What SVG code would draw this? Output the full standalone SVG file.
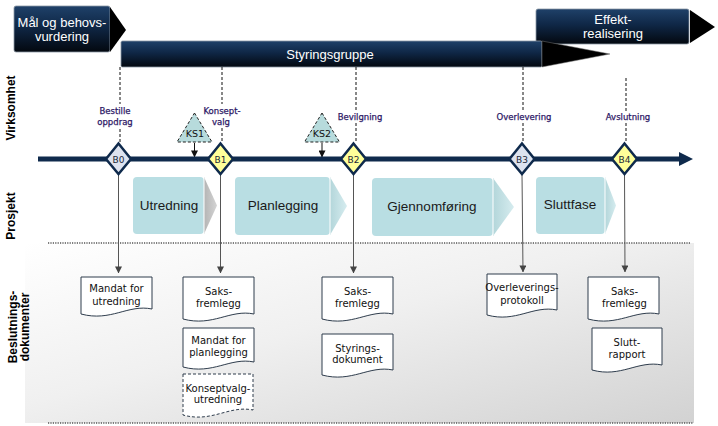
<svg xmlns="http://www.w3.org/2000/svg" width="718" height="426" viewBox="0 0 718 426">
<defs>
<linearGradient id="barGrad" x1="0" y1="0" x2="0" y2="1">
<stop offset="0" stop-color="#1f4169"/><stop offset="0.45" stop-color="#0f2746"/><stop offset="1" stop-color="#03080f"/>
</linearGradient>
<linearGradient id="panelGrad" x1="0" y1="0" x2="1" y2="1">
<stop offset="0" stop-color="#ffffff"/><stop offset="0.45" stop-color="#f0f0f0"/><stop offset="1" stop-color="#d2d2d2"/>
</linearGradient>
<linearGradient id="tipTeal" x1="0" y1="0" x2="1" y2="0">
<stop offset="0" stop-color="#b3d6da"/><stop offset="1" stop-color="#d6ecef"/>
</linearGradient>
<linearGradient id="tipGrey" x1="0" y1="0" x2="1" y2="0">
<stop offset="0" stop-color="#b4b4b4"/><stop offset="1" stop-color="#d4d4d4"/>
</linearGradient>
<marker id="arrG" viewBox="0 0 8 8" refX="7.5" refY="4" markerWidth="7" markerHeight="7" markerUnits="userSpaceOnUse" orient="auto">
<path d="M0,0 L8,4 L0,8 Z" fill="#444"/>
</marker>
<marker id="arrK" viewBox="0 0 8 8" refX="7.5" refY="4" markerWidth="7" markerHeight="7" markerUnits="userSpaceOnUse" orient="auto">
<path d="M0,0 L8,4 L0,8 Z" fill="#111"/>
</marker>
<style>
.bar{fill:url(#barGrad);stroke:#8c98a5;stroke-width:0.8}
.btx{font-family:"Liberation Sans",Arial,sans-serif;font-size:13px;fill:#ffffff;text-anchor:middle}
.lane{font-family:"Liberation Sans",Arial,sans-serif;font-size:12px;font-weight:bold;fill:#000;text-anchor:middle}
.ms{font-family:"DejaVu Sans",Verdana,sans-serif;font-size:8.5px;fill:#2d1866;stroke:#2d1866;stroke-width:0.25;text-anchor:middle}
.dia{stroke:#0f2a4c;stroke-width:2.5}
.dtx{font-family:"DejaVu Sans",Verdana,sans-serif;font-size:9px;fill:#1b2838;text-anchor:middle}
.ks{fill:#b7dbdc;stroke:#222;stroke-width:1;stroke-dasharray:3 2}
.kstx{font-family:"DejaVu Sans",Verdana,sans-serif;font-size:9.5px;fill:#111;text-anchor:middle}
.ph{fill:#b9dee3}
.ptx{font-family:"Liberation Sans",Arial,sans-serif;font-size:13.5px;fill:#1a1a1a;text-anchor:middle}
.doc{fill:#ffffff;stroke:#2f3d4d;stroke-width:1}
.docd{fill:#ffffff;stroke:#2f3d4d;stroke-width:1;stroke-dasharray:3 2}
.dt{font-family:"DejaVu Sans",Verdana,sans-serif;font-size:10px;fill:#111;text-anchor:middle}
.dash{stroke:#111;stroke-width:1;stroke-dasharray:3 2;fill:none}
.conn{stroke:#555;stroke-width:1;fill:none;marker-end:url(#arrG)}
.ksconn{stroke:#111;stroke-width:1;fill:none;marker-end:url(#arrK)}
.dot{stroke:#555;stroke-width:1.5;stroke-dasharray:1.2 1.2}
</style>
</defs>

<!-- background panel -->
<g id="panel">
<rect x="25" y="243" width="669" height="180" fill="url(#panelGrad)"/>
<line class="dot" x1="48" y1="243" x2="690" y2="243"/>
<line class="dot" x1="48" y1="423" x2="693" y2="423"/>
</g>

<!-- lane labels -->
<g id="lane-labels">
<text class="lane" transform="translate(15,108) rotate(-90)">Virksomhet</text>
<text class="lane" transform="translate(15,216) rotate(-90)">Prosjekt</text>
<text class="lane" transform="translate(17,327) rotate(-90)">Beslutnings-</text>
<text class="lane" transform="translate(29,327) rotate(-90)">dokumenter</text>
</g>

<!-- top bars -->
<g id="bar-maal">
<rect class="bar" x="14" y="6" width="96" height="46" rx="2"/>
<polygon points="110,7 126,30 110,52" fill="#000"/>
<text class="btx" x="62" y="27">Mål og behovs-</text>
<text class="btx" x="62" y="41">vurdering</text>
</g>
<g id="bar-effekt">
<rect class="bar" x="536" y="9" width="153" height="35" rx="2"/>
<polygon points="690,10 715,27 690,43" fill="#000"/>
<text class="btx" x="613" y="24">Effekt-</text>
<text class="btx" x="613" y="38">realisering</text>
</g>
<g id="bar-styring">
<rect class="bar" x="121" y="41" width="421" height="26" rx="1.5"/>
<polygon points="542,41 610,54 542,67" fill="#000" stroke="#777" stroke-width="0.5"/>
<text class="btx" x="330" y="59">Styringsgruppe</text>
</g>

<!-- connectors -->
<g id="connectors">
<line class="dash" x1="120" y1="67" x2="120" y2="104"/>
<line class="dash" x1="120" y1="129" x2="120" y2="143"/>
<line class="dash" x1="222" y1="67" x2="222" y2="104"/>
<line class="dash" x1="222" y1="128" x2="222" y2="143"/>
<line class="dash" x1="356" y1="67" x2="356" y2="111"/>
<line class="dash" x1="356" y1="123" x2="356" y2="143"/>
<line class="dash" x1="523" y1="67" x2="523" y2="111"/>
<line class="dash" x1="523" y1="123" x2="523" y2="143"/>
<line class="dash" x1="626" y1="78" x2="626" y2="111"/>
<line class="dash" x1="626" y1="123" x2="626" y2="143"/>
<line class="ksconn" x1="194.5" y1="143" x2="194.5" y2="157"/>
<line class="ksconn" x1="322" y1="143" x2="322" y2="157"/>
<line class="conn" x1="118.5" y1="174" x2="118.5" y2="273"/>
<line class="conn" x1="220.5" y1="174" x2="220.5" y2="273"/>
<line class="conn" x1="353.5" y1="174" x2="353.5" y2="273"/>
<line class="conn" x1="522" y1="174" x2="523" y2="272"/>
<line class="conn" x1="624.5" y1="174" x2="625" y2="272"/>
</g>

<!-- timeline -->
<g id="timeline">
<line x1="38" y1="159" x2="682" y2="159" stroke="#0f2a4c" stroke-width="5"/>
<polygon points="679,152 693,159 679,166" fill="#0f2a4c"/>
</g>

<!-- KS triangles -->
<g id="ks1">
<polygon class="ks" points="194.5,113 212,142 177,142"/>
<text class="kstx" x="195" y="137">KS1</text>
</g>
<g id="ks2">
<polygon class="ks" points="322,113 339.5,142 304.5,142"/>
<text class="kstx" x="322" y="137">KS2</text>
</g>

<!-- milestone labels -->
<g id="ms-labels">
<text class="ms" x="115" y="114">Bestille</text>
<text class="ms" x="115" y="125">oppdrag</text>
<text class="ms" x="222" y="114">Konsept-</text>
<text class="ms" x="221" y="125">valg</text>
<text class="ms" x="360" y="120">Bevilgning</text>
<text class="ms" x="524" y="120">Overlevering</text>
<text class="ms" x="628" y="120">Avslutning</text>
</g>

<!-- milestones -->
<g id="B0">
<polygon class="dia" points="118.5,143.5 131,159 118.5,174 106,159" fill="#dde3ef"/>
<text class="dtx" x="118.5" y="162.5">B0</text>
</g>
<g id="B1">
<polygon class="dia" points="220.5,143.5 233,159 220.5,174 208,159" fill="#ffff99"/>
<text class="dtx" x="220.5" y="162.5">B1</text>
</g>
<g id="B2">
<polygon class="dia" points="353.5,143.5 366,159 353.5,174 341,159" fill="#ffff99"/>
<text class="dtx" x="353.5" y="162.5">B2</text>
</g>
<g id="B3">
<polygon class="dia" points="522,143.5 534.5,159 522,174 509.5,159" fill="#dde3ef"/>
<text class="dtx" x="522" y="162.5">B3</text>
</g>
<g id="B4">
<polygon class="dia" points="624.5,143.5 637,159 624.5,174 612,159" fill="#ffff99"/>
<text class="dtx" x="624.5" y="162.5">B4</text>
</g>

<!-- phases -->
<g id="phase-utredning">
<polygon points="204,177 217,205.5 204,234" fill="url(#tipGrey)"/>
<rect class="ph" x="133" y="177" width="71" height="57" rx="4"/>
<line x1="204" y1="178" x2="204" y2="233" stroke="#ffffff" stroke-width="1"/>
<text class="ptx" x="169" y="210">Utredning</text>
</g>
<g id="phase-planlegging">
<polygon points="330,177 347,206 330,235" fill="url(#tipTeal)"/>
<rect class="ph" x="235" y="177" width="95" height="58" rx="4"/>
<line x1="330" y1="178" x2="330" y2="234" stroke="#ffffff" stroke-width="1"/>
<text class="ptx" x="283" y="210">Planlegging</text>
</g>
<g id="phase-gjennomforing">
<polygon points="493,178 514,207 493,236" fill="url(#tipTeal)"/>
<rect class="ph" x="372" y="178" width="121" height="58" rx="4"/>
<line x1="493" y1="179" x2="493" y2="235" stroke="#ffffff" stroke-width="1"/>
<text class="ptx" x="432" y="211">Gjennomføring</text>
</g>
<g id="phase-sluttfase">
<polygon points="605,177 616,205.5 605,234" fill="url(#tipTeal)"/>
<rect class="ph" x="536" y="177" width="69" height="57" rx="4"/>
<line x1="605" y1="178" x2="605" y2="233" stroke="#ffffff" stroke-width="1"/>
<text class="ptx" x="570" y="209">Sluttfase</text>
</g>

<!-- documents -->
<g id="doc-mandat-utredning">
<path class="doc" d="M81,277 H152 V309 C128,304 111,322 81,314 Z"/>
<text class="dt" x="116.5" y="291.5">Mandat for</text>
<text class="dt" x="116.5" y="304.5">utredning</text>
</g>
<g id="doc-saks-b1">
<path class="doc" d="M183,277 H254 V314 C230,309 213,327 183,319 Z"/>
<text class="dt" x="218.5" y="294.5">Saks-</text>
<text class="dt" x="218.5" y="306.5">fremlegg</text>
</g>
<g id="doc-mandat-planlegging">
<path class="doc" d="M183,328 H254 V362 C230,357 213,375 183,367 Z"/>
<text class="dt" x="218.5" y="343.5">Mandat for</text>
<text class="dt" x="218.5" y="355.5">planlegging</text>
</g>
<g id="doc-konseptvalg">
<path class="docd" d="M183,374 H253 V410 C229,405 212,423 183,415 Z"/>
<text class="dt" x="218" y="391.5">Konseptvalg-</text>
<text class="dt" x="218" y="402.5">utredning</text>
</g>
<g id="doc-saks-b2">
<path class="doc" d="M322,277 H393 V314 C369,309 352,327 322,319 Z"/>
<text class="dt" x="357.5" y="294.5">Saks-</text>
<text class="dt" x="357.5" y="306.5">fremlegg</text>
</g>
<g id="doc-styringsdokument">
<path class="doc" d="M322,334 H393 V370 C369,365 352,383 322,375 Z"/>
<text class="dt" x="357.5" y="351.5">Styrings-</text>
<text class="dt" x="357.5" y="362.5">dokument</text>
</g>
<g id="doc-overlevering">
<path class="doc" d="M487,274 H557 V310 C533,305 516,323 487,315 Z"/>
<text class="dt" x="522" y="291">Overleverings-</text>
<text class="dt" x="522" y="304">protokoll</text>
</g>
<g id="doc-saks-b4">
<path class="doc" d="M588,277 H659 V314 C635,309 618,327 588,319 Z"/>
<text class="dt" x="624.5" y="294.5">Saks-</text>
<text class="dt" x="624.5" y="306.5">fremlegg</text>
</g>
<g id="doc-sluttrapport">
<path class="doc" d="M592,328 H662 V365 C638,360 621,378 592,370 Z"/>
<text class="dt" x="627" y="345.5">Slutt-</text>
<text class="dt" x="627" y="357.5">rapport</text>
</g>
</svg>
